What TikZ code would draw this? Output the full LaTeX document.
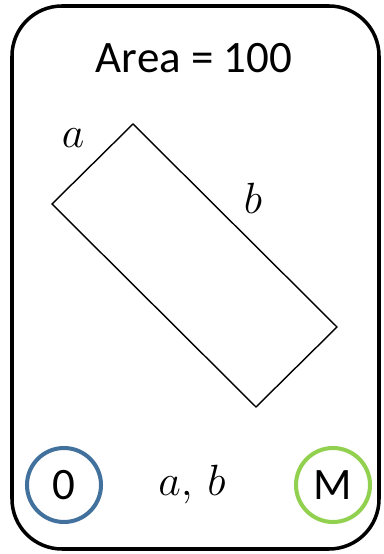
\documentclass[tikz,border=0pt]{standalone}
\usepackage{fontspec}
\setmainfont{Carlito}
\usepackage{tikz}
\usetikzlibrary{positioning, calc}
\definecolor{cardblack}{RGB}{0,0,0}
\definecolor{zeroblue}{RGB}{65,113,156}
\definecolor{mgreen}{RGB}{146,208,80}
\tikzset{
  card/.style={draw=cardblack, line width=2pt, rounded corners=1.0cm},
  rectshape/.style={draw=cardblack, line width=0.8pt, line join=miter},
  sidelbl/.style={font=\fontsize{27}{30}\selectfont, inner sep=0pt},
  badge/.style={circle, minimum size=1.48cm, line width=2.3pt, inner sep=0pt,
    font=\fontsize{25.6}{30}\selectfont}
}
\begin{document}
\begin{tikzpicture}
  \useasboundingbox (0,0) rectangle (7.68,11.08);
  % Card outline
  \draw[card] (0.24,0.10) rectangle (7.58,10.96);

  % Title
  \node[font=\fontsize{25.6}{30}\selectfont, anchor=base, inner sep=0pt] (title) at (3.88,9.62) {Area = 100};

  % Tilted rectangle
  \coordinate (top) at (2.66,8.60);
  \coordinate (lft) at (1.04,7.00);
  \coordinate (bot) at (5.12,2.94);
  \coordinate (rgt) at (6.74,4.54);
  \draw[rectshape] (top) -- (rgt) -- (bot) -- (lft) -- cycle;

  % Side labels
  \node[sidelbl] (lbla) at (1.46,8.32) {$a$};
  \node[sidelbl] (lblb) at (5.06,7.12) {$b$};

  % Bottom row
  \node[badge, draw=zeroblue] (zero) at (1.28,1.38) {0};
  \node[sidelbl] (vars) at (3.84,1.38) {$a,\,b$};
  \node[badge, draw=mgreen] (mbadge) at (6.66,1.38) {M};
\end{tikzpicture}
\end{document}
